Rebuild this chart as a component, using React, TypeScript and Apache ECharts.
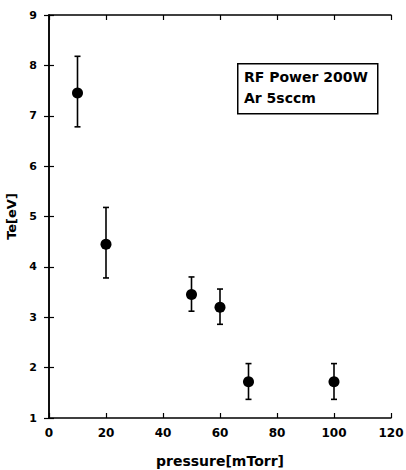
import React, { useEffect, useRef } from "react";
import * as echarts from "echarts";

const pressure = [10, 20, 50, 60, 70, 100];
const te = [7.45, 4.45, 3.45, 3.2, 1.72, 1.72];
const errLow = [6.78, 3.78, 3.12, 2.86, 1.37, 1.37];
const errHigh = [8.18, 5.18, 3.8, 3.56, 2.08, 2.08];
const xTicks = [0, 20, 40, 60, 80, 100, 120];
const yTicks = [1, 2, 3, 4, 5, 6, 7, 8, 9];
const noteLines = ["RF Power 200W", "Ar 5sccm"];

const FONT = "'DejaVu Sans', sans-serif";

export default function App() {
  const ref = useRef<HTMLDivElement>(null);
  useEffect(() => {
    const chart = echarts.init(ref.current!, null, { renderer: "svg" });
    const axisLine = { show: true, lineStyle: { color: "#000", width: 1.5 } };
    const tick = { show: true, inside: true, length: 5, lineStyle: { color: "#000", width: 1.2 } };
    chart.setOption({
      animation: false,
      backgroundColor: "#fff",
      grid: { left: 49, right: 15, top: 15, bottom: 52, containLabel: false, outerBoundsMode: "none" },
      xAxis: [
        {
          type: "value",
          min: xTicks[0],
          max: xTicks[xTicks.length - 1],
          interval: 20,
          position: "bottom",
          axisLine,
          axisTick: tick,
          splitLine: { show: false },
          axisLabel: { color: "#000", fontFamily: FONT, fontWeight: "bold", fontSize: 12, margin: 9 },
          name: "pressure[mTorr]",
          nameLocation: "middle",
          nameGap: 36,
          nameTextStyle: { color: "#000", fontFamily: FONT, fontWeight: "bold", fontSize: 14 },
        },
        {
          type: "value",
          min: xTicks[0],
          max: xTicks[xTicks.length - 1],
          interval: 20,
          position: "top",
          axisLine,
          axisTick: tick,
          splitLine: { show: false },
          axisLabel: { show: false },
        },
      ],
      yAxis: [
        {
          type: "value",
          min: yTicks[0],
          max: yTicks[yTicks.length - 1],
          interval: 1,
          position: "left",
          axisLine,
          axisTick: tick,
          splitLine: { show: false },
          axisLabel: { color: "#000", fontFamily: FONT, fontWeight: "bold", fontSize: 11, margin: 12 },
          name: "Te[eV]",
          nameLocation: "middle",
          nameGap: 25,
          nameTextStyle: { color: "#000", fontFamily: FONT, fontWeight: "bold", fontSize: 13 },
        },
        {
          type: "value",
          min: yTicks[0],
          max: yTicks[yTicks.length - 1],
          interval: 1,
          position: "right",
          axisLine,
          axisTick: tick,
          splitLine: { show: false },
          axisLabel: { show: false },
        },
      ],
      series: [
        {
          type: "custom",
          xAxisIndex: 0,
          yAxisIndex: 0,
          data: pressure.map((p, i) => [p, errLow[i], errHigh[i]]),
          renderItem: (params: any, api: any) => {
            const x = api.value(0);
            const lo = api.coord([x, api.value(1)]);
            const hi = api.coord([x, api.value(2)]);
            const cap = 3;
            const style = { stroke: "#000", lineWidth: 1.6 };
            return {
              type: "group",
              children: [
                { type: "line", shape: { x1: lo[0], y1: lo[1], x2: hi[0], y2: hi[1] }, style },
                { type: "line", shape: { x1: hi[0] - cap, y1: hi[1], x2: hi[0] + cap, y2: hi[1] }, style },
                { type: "line", shape: { x1: lo[0] - cap, y1: lo[1], x2: lo[0] + cap, y2: lo[1] }, style },
              ],
            };
          },
          z: 2,
        },
        {
          type: "scatter",
          xAxisIndex: 0,
          yAxisIndex: 0,
          data: pressure.map((p, i) => [p, te[i]]),
          symbol: "circle",
          symbolSize: 11,
          itemStyle: { color: "#000", opacity: 1 },
          z: 3,
        },
      ],
      graphic: [
        {
          type: "rect",
          left: 237,
          top: 63,
          shape: { width: 140, height: 50 },
          style: { fill: "#fff", stroke: "#000", lineWidth: 1.5 },
          z: 10,
        },
        ...noteLines.map((t, i) => ({
          type: "text",
          left: 244,
          top: 70 + i * 21,
          style: { text: t, fill: "#000", font: `bold 14px ${FONT}` },
          z: 11,
        })),
      ],
    });
    return () => chart.dispose();
  }, []);
  return <div ref={ref} style={{ width: 406, height: 470, position: "absolute", left: 0, top: 0 }} />;
}
